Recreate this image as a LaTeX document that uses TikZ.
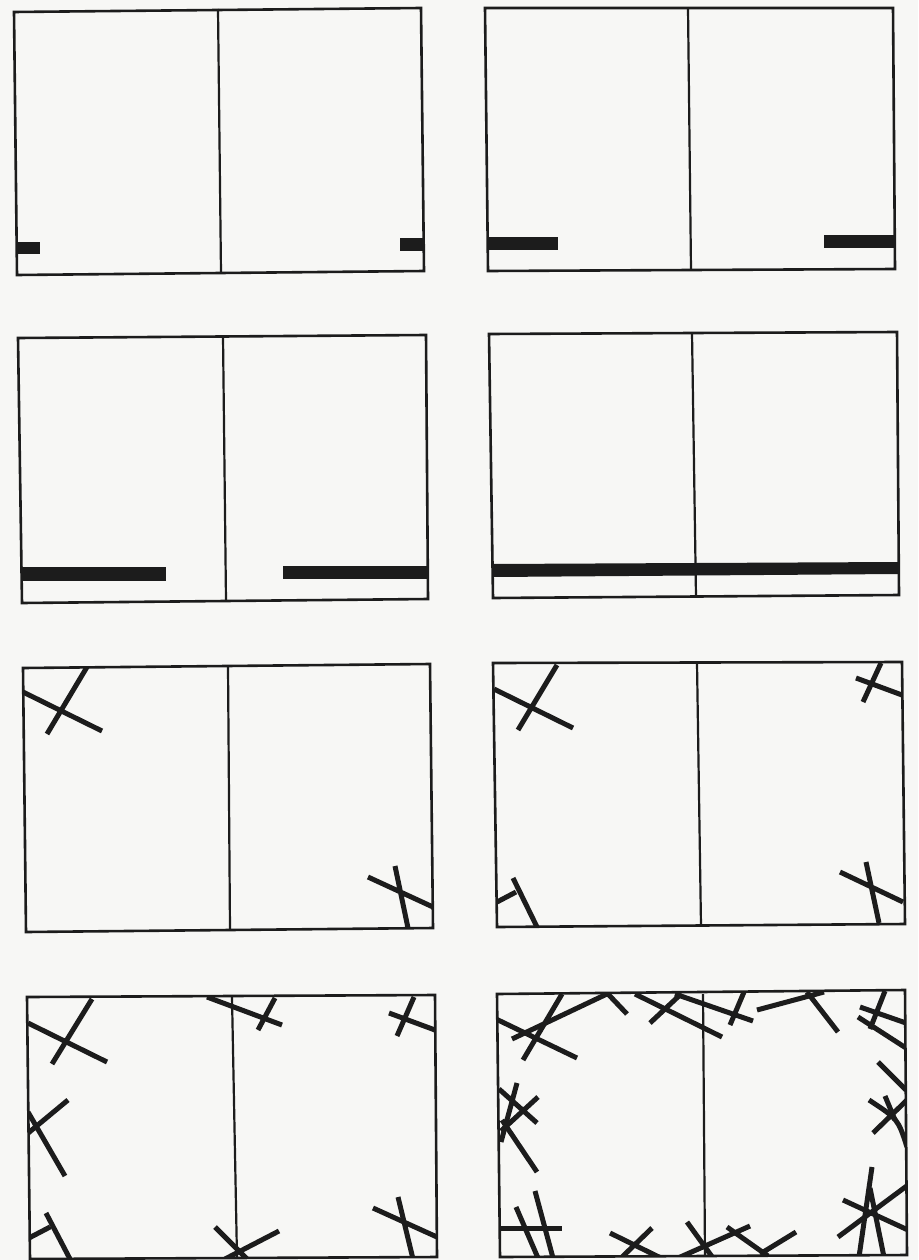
\documentclass[tikz,border=0pt]{standalone}
\usepackage{tikz}
\usetikzlibrary{positioning}
\definecolor{ink}{HTML}{1C1C1C}
\definecolor{paper}{HTML}{F7F7F5}
\tikzset{
  frame/.style={draw=ink, line width=2.6pt, line join=miter},
  divider/.style={draw=ink, line width=2.2pt},
  rod/.style={draw=ink, line width=5pt},
  bar/.style={fill=ink},
}

\begin{document}
\begin{tikzpicture}[x=1pt, y=-1pt]
  \fill[paper] (0,0) rectangle (918,1260);
  \useasboundingbox (0,0) rectangle (918,1260);

  \fill[bar] (17,242) rectangle (40,254);
  \fill[bar] (400,238) rectangle (424,251);
  \draw[frame] (14,12) -- (421,8) -- (424,271) -- (17,275) -- cycle;
  \draw[divider] (218,9) -- (221,273);

  \fill[bar] (488,237) rectangle (558,250);
  \fill[bar] (824,235) rectangle (895,248);
  \draw[frame] (485,8) -- (893,8) -- (895,269) -- (488,271) -- cycle;
  \draw[divider] (688,8) -- (691,270);

  \fill[bar] (22,567) rectangle (166,581);
  \fill[bar] (283,566) rectangle (428,579);
  \draw[frame] (18,338) -- (426,335) -- (428,599) -- (22,603) -- cycle;
  \draw[divider] (223,336) -- (226,601);

  \fill[bar] (493,564) -- (898,562) -- (898,574) -- (493,577) -- cycle;
  \draw[frame] (489,334) -- (897,332) -- (899,595) -- (493,598) -- cycle;
  \draw[divider] (692,333) -- (696,597);

  \begin{scope}
    \clip (23,668) -- (430,664) -- (433,928) -- (26,932) -- cycle;
    \draw[rod] (87,667) -- (47,734) (23,692) -- (102,731);
    \draw[rod] (395,866) -- (408,928) (368,877) -- (433,907);
  \end{scope}
  \draw[frame] (23,668) -- (430,664) -- (433,928) -- (26,932) -- cycle;
  \draw[divider] (228,666) -- (230,930);

  \begin{scope}
    \clip (493,663) -- (902,662) -- (905,924) -- (497,927) -- cycle;
    \draw[rod] (557,665) -- (518,730) (494,689) -- (573,728);
    \draw[rod] (513,878) -- (537,927) (497,902) -- (516,892);
    \draw[rod] (881,663) -- (863,702) (856,678) -- (902,695);
    \draw[rod] (866,862) -- (879,923) (840,872) -- (903,902);
  \end{scope}
  \draw[frame] (493,663) -- (902,662) -- (905,924) -- (497,927) -- cycle;
  \draw[divider] (697,663) -- (701,926);

  \begin{scope}
    \clip (27,997) -- (435,995) -- (437,1257) -- (30,1259) -- cycle;
    \draw[rod] (92,999) -- (52,1064) (28,1023) -- (107,1062);
    \draw[rod] (68,1100) -- (27,1134) (28,1112) -- (65,1176);
    \draw[rod] (46,1213) -- (70,1259) (29,1238) -- (50,1227);
    \draw[rod] (275,998) -- (258,1030) (207,997) -- (282,1025);
    \draw[rod] (414,997) -- (397,1036) (389,1013) -- (435,1030);
    \draw[rod] (398,1197) -- (413,1259) (373,1208) -- (437,1237);
    \draw[rod] (279,1231) -- (225,1259) (215,1227) -- (247,1259);
  \end{scope}
  \draw[frame] (27,997) -- (435,995) -- (437,1257) -- (30,1259) -- cycle;
  \draw[divider] (232,997) -- (237,1258);

  \begin{scope}
    \clip (497,994) -- (905,990) -- (907,1255) -- (500,1257) -- cycle;
    \draw[rod] (496,1019) -- (577,1058) (562,994) -- (523,1060);
    \draw[rod] (512,1039) -- (609,993) (608,994) -- (627,1014);
    \draw[rod] (635,994) -- (722,1037) (650,1023) -- (681,994);
    \draw[rod] (675,994) -- (753,1021) (744,992) -- (730,1025);
    \draw[rod] (757,1010) -- (824,992) (807,992) -- (838,1032);
    \draw[rod] (885,991) -- (870,1029) (860,1007) -- (906,1023);
    \draw[rod] (858,1017) -- (906,1048) (878,1062) -- (906,1090);
    \draw[rod] (517,1083) -- (501,1142) (499,1089) -- (537,1123);
    \draw[rod] (538,1097) -- (501,1131) (502,1120) -- (537,1172);
    \draw[rod] (869,1100) .. controls (898,1119) .. (907,1147);
    \draw[rod] (885,1096) -- (895,1120) (873,1133) -- (907,1100);
    \draw[rod] (872,1167) -- (859,1257) (870,1188) -- (884,1257);
    \draw[rod] (843,1200) -- (908,1230) (838,1237) -- (908,1185);
    \draw[rod] (500,1228) -- (562,1228);
    \draw[rod] (516,1207) -- (538,1258) (535,1191) -- (553,1258);
    \draw[rod] (610,1233) -- (661,1258) (652,1228) -- (621,1258);
    \draw[rod] (687,1222) -- (713,1258) (678,1258) -- (750,1226);
    \draw[rod] (727,1227) -- (768,1256) (760,1254) -- (796,1232);
  \end{scope}
  \draw[frame] (497,994) -- (905,990) -- (907,1255) -- (500,1257) -- cycle;
  \draw[divider] (703,994) -- (705,1256);
\end{tikzpicture}
\end{document}
